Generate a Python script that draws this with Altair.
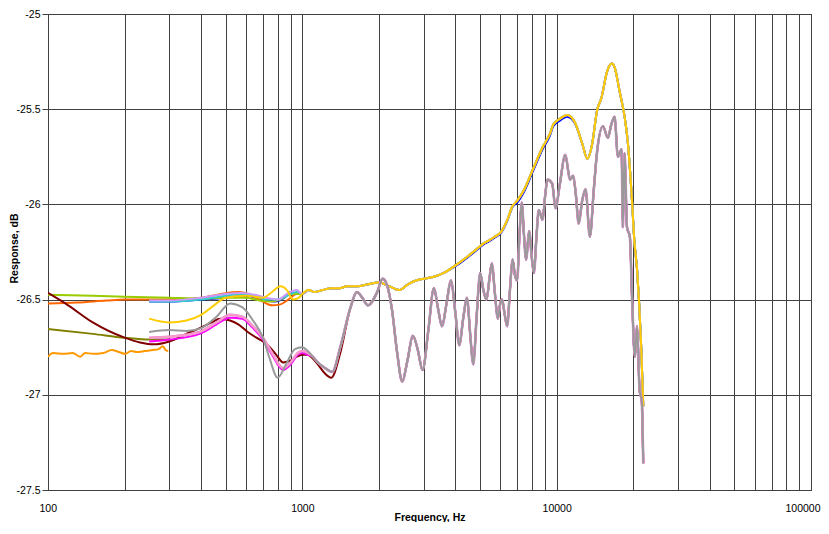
import altair as alt
import pandas as pd

# ---------------- data ----------------
# Upper group: low-frequency parts (Hz, dB)
GREEN_F = [100, 150, 200, 300, 400, 500, 600, 680, 750, 820, 900]
GREEN_V = [-26.475, -26.48, -26.485, -26.49, -26.495, -26.49, -26.49, -26.505, -26.51, -26.50, -26.47]
ORANGERED_F = [100, 130, 170, 200, 300, 400, 480, 560, 640, 700, 760, 820, 880, 950]
ORANGERED_V = [-26.52, -26.515, -26.505, -26.50, -26.50, -26.49, -26.47, -26.46, -26.48, -26.51, -26.53, -26.525, -26.50, -26.47]
CYAN_F = [250, 300, 400, 500, 580, 650, 720, 800, 870, 950]
CYAN_V = [-26.51, -26.51, -26.50, -26.48, -26.47, -26.48, -26.50, -26.50, -26.48, -26.46]
LAVENDER_F = [250, 300, 400, 500, 580, 650, 720, 800, 870, 950]
LAVENDER_V = [-26.505, -26.505, -26.49, -26.47, -26.465, -26.475, -26.49, -26.50, -26.47, -26.45]
BLUE_F = [250, 300, 400, 500, 600, 700, 780, 850, 900, 950]
BLUE_V = [-26.51, -26.51, -26.50, -26.49, -26.48, -26.50, -26.51, -26.49, -26.46, -26.47]
YELLOW_F = [250, 300, 350, 400, 450, 500, 600, 700, 760, 820, 870, 920, 970]
YELLOW_V = [-26.60, -26.62, -26.61, -26.58, -26.53, -26.49, -26.48, -26.49, -26.46, -26.43, -26.45, -26.50, -26.49]

# Upper group: common part from 1 kHz
UP_F = [1000, 1060, 1120, 1200, 1300, 1400, 1500, 1650, 1800, 2000,
        2200, 2400, 2600, 2800, 3000, 3300, 3600, 4000, 4400, 4800,
        5100, 5400, 5700, 6000, 6400, 6700, 7000, 7400, 8100, 8800,
        9400, 9700, 10300, 11000, 11800, 12600, 13200, 13800, 14400, 15000,
        15800, 16500, 16900, 17700, 18500, 19000, 19800, 20200, 20700, 21100,
        21500, 21900]
UP_V = [-26.47, -26.45, -26.46, -26.45, -26.44, -26.44, -26.43, -26.43, -26.42, -26.41,
        -26.43, -26.45, -26.42, -26.40, -26.39, -26.38, -26.36, -26.32, -26.28, -26.24,
        -26.21, -26.19, -26.17, -26.15, -26.08, -26.01, -25.98, -25.93, -25.81, -25.70,
        -25.63, -25.58, -25.55, -25.53, -25.57, -25.68, -25.76, -25.68, -25.51, -25.44,
        -25.30, -25.26, -25.28, -25.41, -25.54, -25.66, -25.99, -26.19, -26.34, -26.52,
        -26.75, -27.06]
# Blue sits a hair below yellow between 4 and 12.6 kHz
BLUE_MID_F = [4000, 4400, 4800, 5100, 5400, 5700, 6000, 6400, 6700, 7000,
              7400, 8100, 8800, 9400, 9700, 10300, 11000, 11800, 12600]
BLUE_MID_V = [-26.325, -26.285, -26.245, -26.215, -26.195, -26.175, -26.155, -26.085, -26.015, -25.99,
              -25.94, -25.82, -25.71, -25.64, -25.59, -25.56, -25.54, -25.575, -25.68]

# Lower group: low-frequency parts
DARKRED_F = [100, 120, 150, 200, 230, 260, 300, 350, 395, 440, 475, 520, 560, 610, 660, 700,
             745, 790, 840, 900, 950, 1000, 1050, 1100, 1150, 1230, 1300, 1410]
DARKRED_V = [-26.465, -26.53, -26.62, -26.70, -26.725, -26.735, -26.72, -26.68, -26.65, -26.62,
             -26.60, -26.61, -26.63, -26.67, -26.70, -26.72, -26.75, -26.79, -26.83, -26.82,
             -26.80, -26.79, -26.79, -26.81, -26.84, -26.89, -26.91, -26.78]
OLIVE_F = [100, 150, 200, 250, 300]
OLIVE_V = [-26.655, -26.68, -26.70, -26.71, -26.71]
ORANGE_F = [100, 104.6, 115, 125, 133.6, 140, 150, 165, 178, 190, 201, 212, 224, 240, 259, 272, 283, 290, 297]
ORANGE_V = [-26.80, -26.78, -26.785, -26.78, -26.80, -26.78, -26.785, -26.78, -26.765, -26.775,
            -26.785, -26.77, -26.775, -26.77, -26.765, -26.76, -26.745, -26.765, -26.77]
GRAY_F = [250, 300, 350, 400, 460, 520, 580, 640, 700, 740, 800, 870, 935, 1000, 1050]
GRAY_V = [-26.67, -26.66, -26.665, -26.65, -26.59, -26.52, -26.54, -26.61, -26.70, -26.80,
          -26.91, -26.83, -26.76, -26.75, -26.77]
PINK_F = [250, 300, 395, 460, 520, 580, 640, 700, 760, 840, 900, 960, 1000, 1050]
PINK_V = [-26.70, -26.695, -26.67, -26.62, -26.58, -26.59, -26.64, -26.70, -26.78, -26.86,
          -26.83, -26.78, -26.77, -26.78]
MAGENTA_F = [250, 300, 395, 460, 520, 580, 640, 700, 760, 840, 900, 960, 1000, 1050]
MAGENTA_V = [-26.72, -26.71, -26.68, -26.63, -26.595, -26.60, -26.65, -26.71, -26.79, -26.87,
             -26.84, -26.79, -26.78, -26.79]

# Lower group: common part from 1.1 kHz
LO_F = [1100, 1150, 1230, 1310, 1410, 1540, 1640, 1720, 1810, 1970,
        2070, 2160, 2250, 2360, 2470, 2590, 2720, 2840, 2970, 3130,
        3290, 3420, 3540, 3690, 3840, 3990, 4140, 4290, 4440, 4570,
        4700, 4850, 5000, 5150, 5300, 5430, 5560, 5720, 5870, 6000,
        6100, 6250, 6390, 6550, 6710, 6850, 6990, 7150, 7290, 7430,
        7580, 7800, 7970, 8140, 8320, 8500, 8800, 9000, 9200, 9600,
        9900, 10300, 10800, 11300, 11600, 11900, 12200, 12600, 13000, 13500,
        14000, 14400, 15200, 15900, 16400, 16900, 17400, 18000, 18200, 18500,
        18900, 19400, 19800, 20300, 20700, 21200, 21600, 21900]
LO_V = [-26.80, -26.83, -26.86, -26.88, -26.75, -26.55, -26.46, -26.49, -26.53, -26.46,
        -26.39, -26.43, -26.55, -26.78, -26.93, -26.82, -26.69, -26.76, -26.87, -26.66,
        -26.44, -26.55, -26.64, -26.52, -26.40, -26.56, -26.74, -26.60, -26.49, -26.68,
        -26.84, -26.58, -26.36, -26.45, -26.50, -26.40, -26.31, -26.47, -26.60, -26.52,
        -26.50, -26.58, -26.64, -26.45, -26.29, -26.37, -26.40, -26.15, -25.99, -26.15,
        -26.29, -26.14, -26.27, -26.36, -26.18, -26.03, -26.08, -25.96, -25.87, -25.89,
        -26.02, -25.89, -25.74, -25.87, -25.85, -25.95, -26.10, -25.98, -25.92, -26.17,
        -25.92, -25.73, -25.59, -25.65, -25.58, -25.54, -25.75, -25.71, -26.12, -25.73,
        -26.12, -26.17, -26.50, -26.80, -26.64, -26.98, -27.03, -27.36]

X_TICKS = [100, 200, 300, 400, 500, 600, 700, 800, 900,
           1000, 2000, 3000, 4000, 5000, 6000, 7000, 8000, 9000,
           10000, 20000, 30000, 40000, 50000, 60000, 70000, 80000, 90000, 100000]
X_LABELS = [100, 1000, 10000, 100000]
Y_TICKS = [-27.5, -27, -26.5, -26, -25.5, -25]

# ---------------- assemble series ----------------
def up_series(f_low, v_low):
    return f_low + UP_F, v_low + UP_V

def lo_series(f_low, v_low, start):
    tf = [f for f in LO_F if f >= start]
    tv = [v for f, v in zip(LO_F, LO_V) if f >= start]
    return f_low + tf, v_low + tv

blue_f = BLUE_F + [f for f in UP_F if f < 4000] + BLUE_MID_F + [f for f in UP_F if f > 12600]
blue_v = (BLUE_V + [v for f, v in zip(UP_F, UP_V) if f < 4000] + BLUE_MID_V
          + [v for f, v in zip(UP_F, UP_V) if f > 12600])

series = [
    ("blue", "#0000FF", 2.0, blue_f, blue_v),
    ("orangered", "#FF6600", 2.0, *up_series(ORANGERED_F, ORANGERED_V)),
    ("green", "#99CC00", 2.0, *up_series(GREEN_F, GREEN_V)),
    ("cyan", "#33CCCC", 2.0, *up_series(CYAN_F, CYAN_V)),
    ("lavender", "#CC99FF", 2.0, *up_series(LAVENDER_F, LAVENDER_V)),
    ("yellow", "#FFCC00", 2.0, *up_series(YELLOW_F, YELLOW_V)),
    ("olive", "#808000", 2.0, OLIVE_F, OLIVE_V),
    ("orange", "#FF9900", 2.0, ORANGE_F, ORANGE_V),
    ("darkred", "#800000", 2.0, *lo_series(DARKRED_F, DARKRED_V, 1540)),
    ("magenta", "#FF00FF", 2.0, *lo_series(MAGENTA_F, MAGENTA_V, 1100)),
    ("violet", "#CC88CC", 2.6, *lo_series(PINK_F, PINK_V, 1100)),
    ("pink", "#FF99CC", 2.0, *lo_series(PINK_F, PINK_V, 1100)),
    ("gray", "#999999", 2.0, *lo_series(GRAY_F, GRAY_V, 1100)),
]

FONT = "Liberation Sans"

x_label_expr = ("indexof([" + ",".join(str(v) for v in X_LABELS) + "], datum.value) >= 0 ? '' + datum.value : ''")

x_enc = alt.X(
    "f:Q",
    scale=alt.Scale(type="log", domain=[100, 100000], nice=False),
    axis=alt.Axis(
        values=X_TICKS, labelExpr=x_label_expr, title="Frequency, Hz",
        grid=True, gridColor="#404040", gridWidth=1, ticks=False, domain=False,
        labelPadding=13, labelFont=FONT, labelFontSize=10.5, labelColor="#000000",
        labelFlush=True, labelFlushOffset=9, labelOverlap=False,
        titleFont=FONT, titleFontSize=10.5, titleFontWeight="bold", titleColor="#000000",
        titleBaseline="bottom", titleY=32,
    ),
)
y_enc = alt.Y(
    "v:Q",
    scale=alt.Scale(domain=[-27.5, -25], nice=False, zero=False),
    axis=alt.Axis(
        values=Y_TICKS, labelExpr="'' + datum.value", title="Response, dB",
        grid=True, gridColor="#404040", gridWidth=1, ticks=True, tickSize=6,
        tickColor="#404040", domain=False, labelPadding=2,
        labelFont=FONT, labelFontSize=10.5, labelColor="#000000",
        titleFont=FONT, titleFontSize=10.5, titleFontWeight="bold", titleColor="#000000",
        titleAngle=270, titleX=-34, titleY=234, titleAlign="center", titleBaseline="middle",
    ),
)

layers = []
for name, color, width, fs, vs in series:
    df = pd.DataFrame({"f": fs, "v": vs})
    layers.append(
        alt.Chart(df).mark_line(color=color, strokeWidth=width, interpolate="monotone", clip=True)
        .encode(x=x_enc, y=y_enc)
    )

chart = alt.layer(*layers).properties(
    width=763, height=476,
    padding={"left": 40, "top": 6, "right": 10, "bottom": 32},
    autosize=alt.AutoSizeParams(type="none"),
    background="white",
).configure_view(stroke="#000000", strokeWidth=1)

chart.save("out.html", embed_options={"renderer": "svg", "actions": False})
